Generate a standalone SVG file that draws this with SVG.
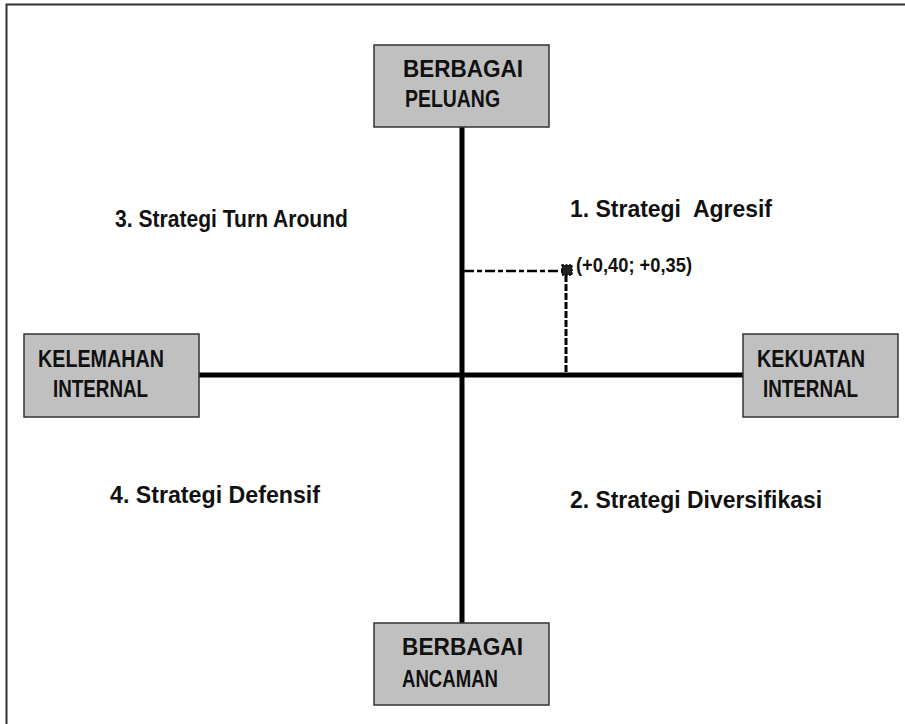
<svg xmlns="http://www.w3.org/2000/svg" width="905" height="724" viewBox="0 0 905 724">
<style>
.box{fill:#c0c0c0;stroke:#333;stroke-width:1.5}
.bt{font-family:"Liberation Sans",Arial,sans-serif;font-weight:bold;font-size:24px;fill:#111}
.lab{font-family:"Liberation Sans",Arial,sans-serif;font-weight:bold;font-size:24px;fill:#111}
.pt{font-family:"Liberation Sans",Arial,sans-serif;font-weight:bold;font-size:20px;fill:#111}
.axis{stroke:#000;stroke-width:5;fill:none}
.dash{stroke:#000;fill:none}
</style>
<rect x="0" y="0" width="905" height="724" fill="#fff"/>
<rect x="6.5" y="4.5" width="910" height="730" fill="none" stroke="#333" stroke-width="2"/>
<g id="connectors">
<line class="axis" x1="462" y1="127" x2="462" y2="623"/>
<line class="axis" x1="199" y1="375" x2="743" y2="375"/>
<line class="dash" x1="464" y1="271" x2="563" y2="271" stroke-width="2.5" stroke-dasharray="10,3,5,3"/>
<line class="dash" x1="566" y1="275" x2="566" y2="373" stroke-width="3" stroke-dasharray="7,2"/>
</g>
<g id="point">
<rect x="562" y="265" width="10" height="10" fill="#222" stroke="#000" stroke-width="1.5" stroke-dasharray="2,1.5"/>
<text class="pt" x="576" y="272" textLength="116" lengthAdjust="spacingAndGlyphs">(+0,40; +0,35)</text>
</g>
<g id="node-peluang">
<rect class="box" x="374" y="45" width="175" height="82"/>
<text class="bt" x="403" y="77" textLength="120" lengthAdjust="spacingAndGlyphs">BERBAGAI</text>
<text class="bt" x="405" y="107" textLength="95" lengthAdjust="spacingAndGlyphs">PELUANG</text>
</g>
<g id="node-ancaman">
<rect class="box" x="374" y="623" width="175" height="82"/>
<text class="bt" x="402" y="655" textLength="121" lengthAdjust="spacingAndGlyphs">BERBAGAI</text>
<text class="bt" x="402" y="687" textLength="96" lengthAdjust="spacingAndGlyphs">ANCAMAN</text>
</g>
<g id="node-kelemahan">
<rect class="box" x="24" y="334" width="175" height="83"/>
<text class="bt" x="38" y="367" textLength="126" lengthAdjust="spacingAndGlyphs">KELEMAHAN</text>
<text class="bt" x="53" y="397" textLength="95" lengthAdjust="spacingAndGlyphs">INTERNAL</text>
</g>
<g id="node-kekuatan">
<rect class="box" x="743" y="334" width="155" height="83"/>
<text class="bt" x="757" y="367" textLength="108" lengthAdjust="spacingAndGlyphs">KEKUATAN</text>
<text class="bt" x="763" y="397" textLength="95" lengthAdjust="spacingAndGlyphs">INTERNAL</text>
</g>
<g id="labels">
<text class="lab" x="115" y="227" textLength="233" lengthAdjust="spacingAndGlyphs">3. Strategi Turn Around</text>
<text class="lab" x="570" y="217" textLength="202" lengthAdjust="spacingAndGlyphs" xml:space="preserve">1. Strategi  Agresif</text>
<text class="lab" x="110" y="503" textLength="210" lengthAdjust="spacingAndGlyphs">4. Strategi Defensif</text>
<text class="lab" x="570" y="508" textLength="252" lengthAdjust="spacingAndGlyphs">2. Strategi Diversifikasi</text>
</g>
</svg>
